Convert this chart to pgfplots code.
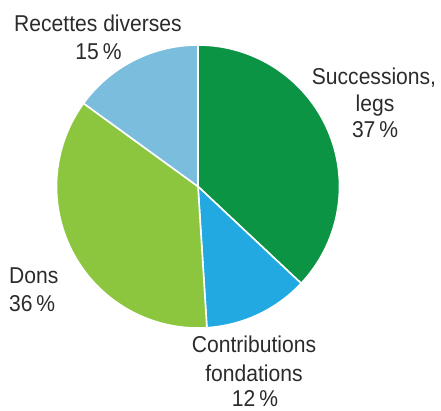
\documentclass[border=0pt]{standalone}
\usepackage{fontspec}
\setmainfont{Liberation Sans}[FakeStretch=0.92]
\usepackage{pgfplots}
\pgfplotsset{compat=1.18}

\definecolor{succ}{HTML}{0B9444}
\definecolor{contrib}{HTML}{22A9E1}
\definecolor{dons}{HTML}{8CC63F}
\definecolor{rec}{HTML}{7BBDDC}
\definecolor{txt}{HTML}{2B2B2B}

% shares in percent, clockwise from 12 o'clock
\def\vSucc{37}
\def\vContrib{12}
\def\vDons{36}
\def\vRec{15}
\pgfmathsetmacro\aA{90}
\pgfmathsetmacro\aB{\aA-3.6*\vSucc}
\pgfmathsetmacro\aC{\aB-3.6*\vContrib}
\pgfmathsetmacro\aD{\aC-3.6*\vDons}
\pgfmathsetmacro\aE{\aD-3.6*\vRec}

\begin{document}
\begin{tikzpicture}[
    wedge/.style={draw=white, line width=1.6bp, line join=round},
    lbl/.style={inner sep=0pt, anchor=base, text=txt,
      font=\fontsize{23}{28}\selectfont},
  ]
  \begin{axis}[
      x=141.5bp, y=141.5bp,
      xmin=-1.3993, xmax=1.7173,
      ymin=-1.5866, ymax=1.3180,
      hide axis, clip=false,
      scale only axis,
    ]
    \addplot[wedge, fill=succ, data cs=polar, samples=120, domain=\aB:\aA] {1} -- (axis cs:0,0) -- cycle;
    \addplot[wedge, fill=contrib, data cs=polar, samples=120, domain=\aC:\aB] {1} -- (axis cs:0,0) -- cycle;
    \addplot[wedge, fill=dons, data cs=polar, samples=120, domain=\aD:\aC] {1} -- (axis cs:0,0) -- cycle;
    \addplot[wedge, fill=rec, data cs=polar, samples=120, domain=\aE:\aD] {1} -- (axis cs:0,0) -- cycle;

    \node[lbl] at (axis cs:-0.7067,1.0940) {Recettes diverses};
    \node[lbl] at (axis cs:-0.7032,0.8940) {15\,\%};
    \node[lbl] at (axis cs:1.2438,0.7173) {Successions,};
    \node[lbl] at (axis cs:1.2509,0.5300) {legs};
    \node[lbl] at (axis cs:1.2509,0.3428) {37\,\%};
    \node[lbl, anchor=base west] at (axis cs:-1.3357,-0.6890) {Dons};
    \node[lbl, anchor=base west] at (axis cs:-1.3357,-0.8869) {36\,\%};
    \node[lbl] at (axis cs:0.3958,-1.1767) {Contributions};
    \node[lbl] at (axis cs:0.3958,-1.3746) {fondations};
    \node[lbl] at (axis cs:0.4028,-1.5548) {12\,\%};
  \end{axis}
  \path (current axis.south west) rectangle (current axis.north east);
\end{tikzpicture}
\end{document}
